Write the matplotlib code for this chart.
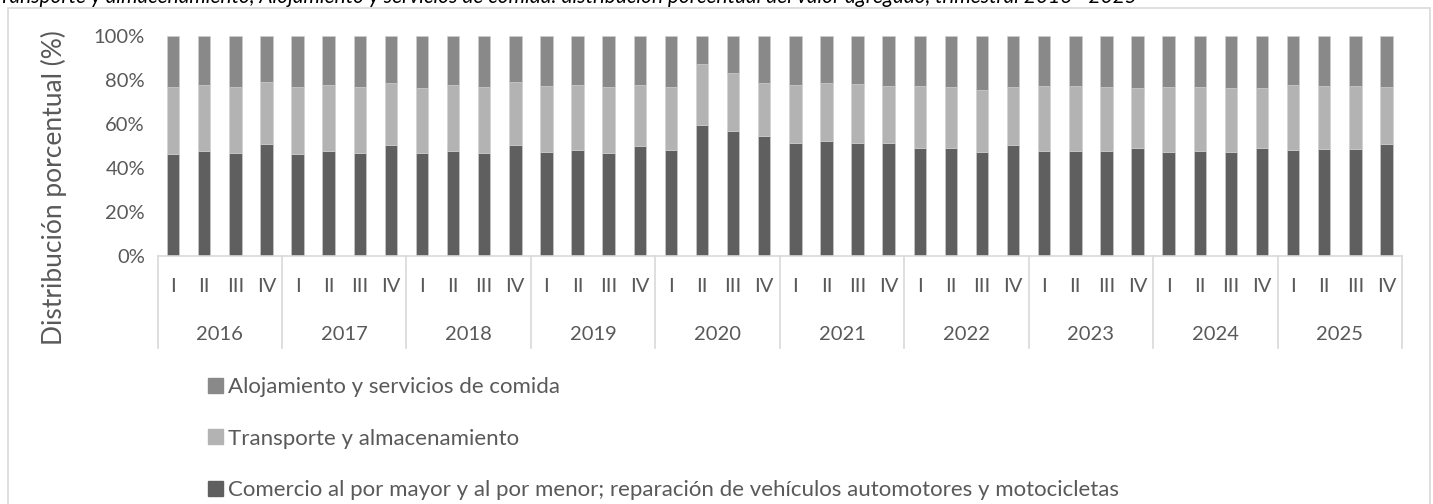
import matplotlib.pyplot as plt
import matplotlib.transforms as mtransforms
from matplotlib.patches import Rectangle, Patch

years = ["2016", "2017", "2018", "2019", "2020", "2021", "2022", "2023", "2024", "2025"]
quarters = ["I", "II", "III", "IV"]

# share of each sector (%)
comercio = [46.5, 47.9, 47.0, 50.8, 46.5, 47.7, 47.0, 50.3, 46.8, 47.7,
            47.0, 50.3, 47.3, 48.2, 46.8, 50.0, 48.2, 59.5, 56.6, 54.4,
            51.4, 52.3, 51.2, 51.5, 49.2, 49.2, 47.4, 50.3, 47.9, 47.7,
            47.7, 49.2, 47.3, 47.6, 47.3, 49.1, 48.2, 48.8, 48.8, 50.9]
transporte = [30.5, 29.7, 30.0, 28.5, 30.5, 30.2, 30.0, 28.4, 29.7, 30.2,
              29.8, 29.0, 30.1, 29.7, 30.2, 27.9, 28.8, 27.7, 26.6, 24.4,
              26.5, 26.5, 27.2, 25.6, 27.9, 27.8, 28.2, 26.7, 29.5, 29.4,
              29.3, 27.3, 29.7, 29.1, 28.9, 27.1, 29.7, 28.6, 28.6, 26.1]
alojamiento = [100 - c - t for c, t in zip(comercio, transporte)]

labels = ["Comercio al por mayor y al por menor; reparación de vehículos automotores y motocicletas",
          "Transporte y almacenamiento",
          "Alojamiento y servicios de comida"]
colors = ["#5f5f5f", "#b3b3b3", "#898989"]

plt.rcParams["font.family"] = ["Lato", "DejaVu Sans"]
txt = "#595959"

fig = plt.figure(figsize=(14.33, 5.04), dpi=100)
ax = fig.add_axes([157.5 / 1433, 248 / 504, 1244.5 / 1433, 220 / 504])

x = list(range(len(comercio)))
bottom = [0.0] * len(x)
for vals, col in zip([comercio, transporte, alojamiento], colors):
    ax.bar(x, vals, bottom=bottom, width=0.4, color=col, edgecolor="#d0d0d0", linewidth=0.4)
    bottom = [b + v for b, v in zip(bottom, vals)]

ax.set_xlim(-0.5, len(x) - 0.5)
ax.set_ylim(0, 100)
ax.set_yticks([0, 20, 40, 60, 80, 100])
ax.set_yticklabels([f"{v}%" for v in [0, 20, 40, 60, 80, 100]], fontsize=14.5, color=txt)
ax.tick_params(axis="y", length=0, pad=9)
ax.set_xticks(x)
ax.set_xticklabels(quarters * len(years), fontsize=14.5, color=txt)
ax.tick_params(axis="x", length=0, pad=16)
for s in ["left", "right", "top"]:
    ax.spines[s].set_visible(False)
ax.spines["bottom"].set_color("#d9d9d9")
ax.spines["bottom"].set_linewidth(1.2)

# year labels and separators of the category axis
trans = mtransforms.blended_transform_factory(ax.transData, ax.transAxes)
for i, yr in enumerate(years):
    ax.text(i * 4 + 1.5, -0.356, yr, transform=trans, ha="center", va="center",
            fontsize=14.5, color=txt)
for i in range(len(years) + 1):
    ax.plot([i * 4 - 0.5, i * 4 - 0.5], [0, -0.42], transform=trans,
            color="#d9d9d9", lw=1.2, clip_on=False)

ax.set_ylabel("Distribución porcentual (%)", fontsize=19, color=txt)
ax.yaxis.set_label_coords(-90 / 1244.5, 0.31)

handles = [Patch(color=c) for c in colors][::-1]
fig.legend(handles, labels[::-1], loc="upper left", bbox_to_anchor=(188 / 1433, 1 - 357 / 504),
           frameon=False, fontsize=16, labelcolor=txt, handlelength=0.68, handleheight=0.68,
           handletextpad=0.2, labelspacing=1.42)

# chart frame and the clipped caption above it
fig.patches.append(Rectangle((8 / 1433, -0.01), 1422 / 1433, 1.01 - 8 / 504, transform=fig.transFigure,
                             fill=False, edgecolor="#d9d9d9", lw=1.2))
fig.text(-0.006, 1 - 3 / 504,
         "Transporte y almacenamiento, Alojamiento y servicios de comida: distribución porcentual del valor agregado, trimestral 2016 - 2025",
         style="italic", fontsize=15, color="#000000", va="baseline")

fig.savefig("out.png", dpi=100)
